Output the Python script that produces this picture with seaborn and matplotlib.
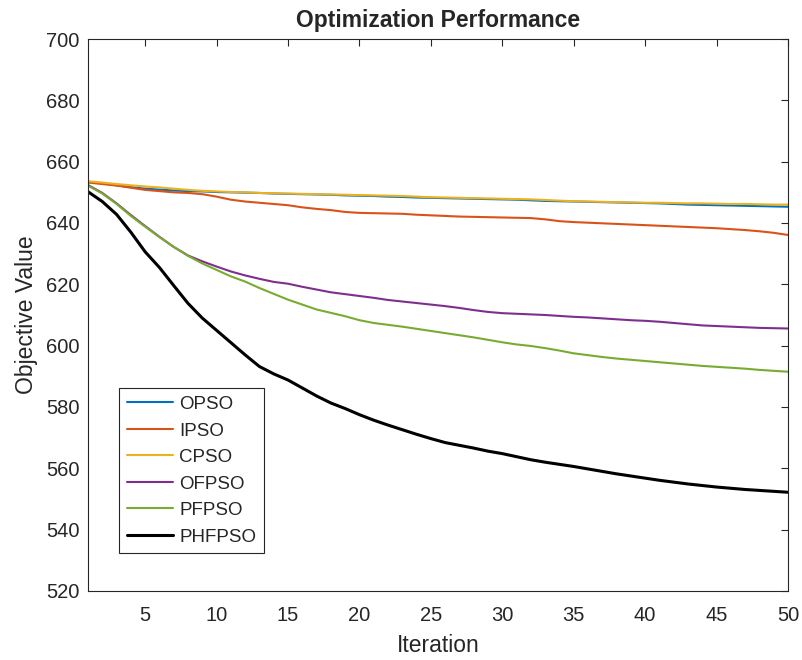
import numpy as np
import pandas as pd
import seaborn as sns
from matplotlib import pyplot as plt

iters = list(range(1, 51))

opso = [653.4, 652.9, 652.3, 651.7, 651.2, 650.9, 650.6, 650.4, 650.3, 650.1,
        650.0, 649.9, 649.8, 649.6, 649.5, 649.4, 649.3, 649.2, 649.0, 648.9,
        648.8, 648.6, 648.5, 648.3, 648.2, 648.1, 648.0, 647.9, 647.8, 647.7,
        647.6, 647.4, 647.2, 647.1, 647.0, 646.9, 646.8, 646.7, 646.6, 646.5,
        646.4, 646.2, 646.0, 645.9, 645.8, 645.7, 645.6, 645.5, 645.4, 645.3]
ipso = [653.2, 652.7, 652.2, 651.5, 650.8, 650.4, 650.0, 649.8, 649.4, 648.6,
        647.6, 647.0, 646.6, 646.2, 645.8, 645.1, 644.6, 644.2, 643.6, 643.3,
        643.2, 643.1, 643.0, 642.7, 642.5, 642.3, 642.1, 642.0, 641.9, 641.8,
        641.7, 641.6, 641.2, 640.6, 640.3, 640.1, 639.9, 639.7, 639.5, 639.3,
        639.1, 638.9, 638.7, 638.5, 638.3, 638.0, 637.7, 637.3, 636.8, 636.1]
cpso = [653.6, 653.2, 652.7, 652.3, 651.9, 651.6, 651.2, 650.8, 650.5, 650.3,
        650.1, 650.0, 649.8, 649.7, 649.6, 649.5, 649.4, 649.3, 649.2, 649.1,
        649.0, 648.9, 648.8, 648.6, 648.4, 648.3, 648.2, 648.1, 648.0, 647.9,
        647.8, 647.7, 647.5, 647.3, 647.1, 647.0, 646.9, 646.8, 646.7, 646.6,
        646.6, 646.5, 646.4, 646.4, 646.3, 646.2, 646.2, 646.1, 646.0, 646.0]
ofpso = [652.4, 649.8, 646.4, 642.6, 639.0, 635.5, 632.2, 629.4, 627.5, 625.8,
         624.2, 622.9, 621.8, 620.8, 620.2, 619.2, 618.3, 617.4, 616.8, 616.2,
         615.6, 614.9, 614.4, 613.9, 613.4, 612.9, 612.3, 611.6, 611.0, 610.6,
         610.4, 610.2, 610.0, 609.7, 609.4, 609.2, 608.9, 608.6, 608.3, 608.1,
         607.8, 607.4, 607.0, 606.6, 606.4, 606.2, 606.0, 605.8, 605.7, 605.6]
pfpso = [652.2, 649.6, 646.2, 642.3, 638.8, 635.4, 632.2, 629.3, 626.8, 624.7,
         622.6, 620.9, 618.8, 616.9, 615.0, 613.4, 611.8, 610.7, 609.6, 608.3,
         607.4, 606.8, 606.2, 605.5, 604.8, 604.1, 603.4, 602.7, 601.9, 601.1,
         600.4, 599.9, 599.2, 598.4, 597.5, 596.9, 596.3, 595.8, 595.4, 595.0,
         594.6, 594.2, 593.8, 593.4, 593.1, 592.8, 592.5, 592.1, 591.8, 591.5]
phfpso = [650.2, 647.0, 642.8, 637.0, 630.6, 625.5, 619.6, 613.8, 609.0, 605.0,
          601.0, 597.0, 593.2, 590.8, 588.8, 586.2, 583.6, 581.3, 579.5, 577.5,
          575.7, 574.1, 572.6, 571.1, 569.7, 568.4, 567.5, 566.6, 565.6, 564.8,
          563.8, 562.8, 562.0, 561.3, 560.6, 559.8, 559.0, 558.2, 557.5, 556.8,
          556.1, 555.5, 554.9, 554.4, 553.9, 553.5, 553.1, 552.8, 552.5, 552.2]

names = ['OPSO', 'IPSO', 'CPSO', 'OFPSO', 'PFPSO', 'PHFPSO']
series = [opso, ipso, cpso, ofpso, pfpso, phfpso]
colors = ['#0072BD', '#D95319', '#EDB120', '#7E2F8E', '#77AC30', '#000000']
widths = [1.5, 1.5, 1.5, 1.5, 1.5, 2.2]

sns.set_style('white')
plt.rcParams['font.family'] = ['Liberation Sans', 'DejaVu Sans']
dark = '#262626'

fig = plt.figure(figsize=(8.02, 6.6), dpi=100)
ax = fig.add_axes([88 / 802, 1 - 591 / 660, 700 / 802, 552 / 660])

for name, vals, c, lw in zip(names, series, colors, widths):
    sns.lineplot(x=iters, y=vals, color=c, linewidth=lw, label=name, ax=ax)

ax.set_xlim(1, 50)
ax.set_ylim(520, 700)
ax.set_xticks(range(5, 51, 5))
ax.set_yticks(range(520, 701, 20))
ax.tick_params(direction='in', length=5, width=0.8, colors=dark,
               labelsize=14.5, top=True, right=True)
ax.tick_params(axis='x', pad=11)
ax.tick_params(axis='y', pad=6)
for s in ax.spines.values():
    s.set_color(dark)
    s.set_linewidth(0.8)

ax.set_xlabel('Iteration', fontsize=16.5, color=dark, labelpad=6)
ax.set_ylabel('Objective Value', fontsize=16.5, color=dark, labelpad=6)
ax.set_title('Optimization Performance', fontsize=16.5, fontweight='bold', pad=9)

leg = ax.legend(loc='lower left', bbox_to_anchor=(0.0443, 0.0688), borderaxespad=0,
                fontsize=13.5, handlelength=2.5, handletextpad=0.3,
                labelspacing=0.5, borderpad=0.4, fancybox=False, framealpha=1)
leg.get_frame().set_edgecolor(dark)
leg.get_frame().set_linewidth(0.8)
for t in leg.get_texts():
    t.set_color(dark)

fig.savefig('out.png', dpi=100)
